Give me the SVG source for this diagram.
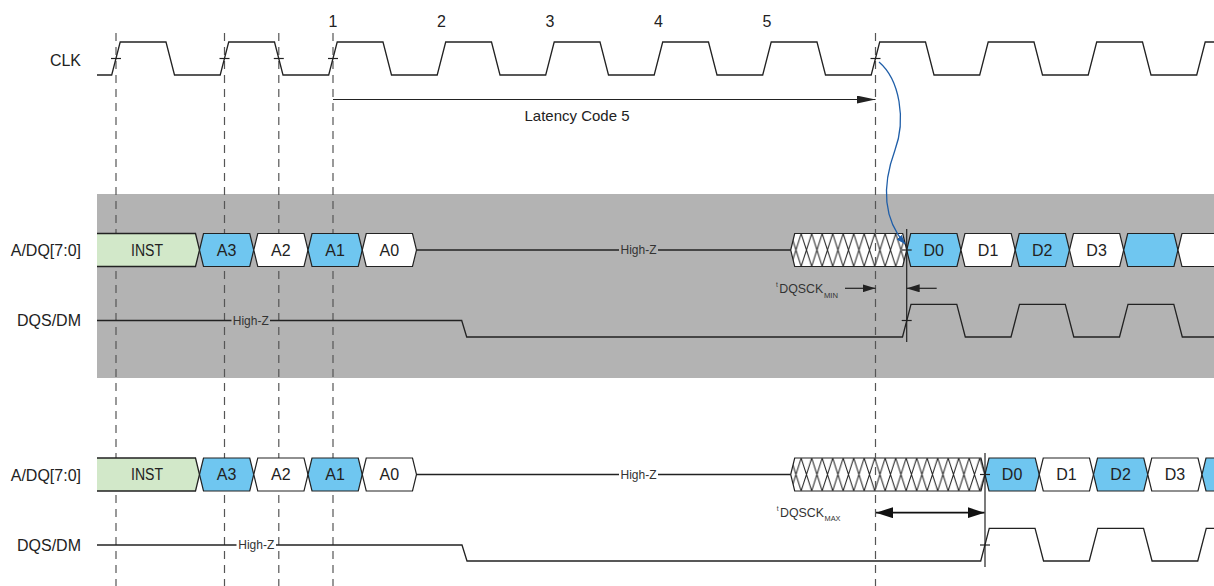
<svg xmlns="http://www.w3.org/2000/svg" width="1214" height="586" viewBox="0 0 1214 586">
<style>
text{font-family:"Liberation Sans",Arial,sans-serif;fill:#222}
.lbl{font-size:16px;text-anchor:end}
.num{font-size:16px;text-anchor:middle}
.bt{font-size:16px;text-anchor:middle}
.hz{font-size:12px;text-anchor:middle;fill:#333}
.w{fill:none;stroke:#222;stroke-width:1.3;stroke-linejoin:miter}
.dash{stroke:#555;stroke-width:1.2;stroke-dasharray:8,6}
.blue{fill:#6fc6f0;stroke:#222;stroke-width:1.2}
.white{fill:#fff;stroke:#222;stroke-width:1.2}
.green{fill:#d2e8c9;stroke:none}
.tick{stroke:#222;stroke-width:1.2}
.conn{fill:none;stroke:#222;stroke-width:1.2}
.small{font-size:13px;fill:#333}
.tiny{font-size:6.5px;fill:#333}
</style>
<defs>
<pattern id="hatch1" patternUnits="userSpaceOnUse" x="790.7" y="233.5" width="10.5" height="33">
<path d="M0,0 L10.5,33 M10.5,0 L0,33" stroke="#222" stroke-width="1" fill="none"/>
</pattern>
<pattern id="hatch2" patternUnits="userSpaceOnUse" x="790.7" y="458" width="10.5" height="33">
<path d="M0,0 L10.5,33 M10.5,0 L0,33" stroke="#222" stroke-width="1" fill="none"/>
</pattern>
<marker id="arrLat" viewBox="0 0 19 8" refX="19" refY="4" markerWidth="19" markerHeight="8" markerUnits="userSpaceOnUse" orient="auto">
<path d="M0,0 L19,4 L0,8 z" fill="#222"/>
</marker>
<marker id="arrS" viewBox="0 0 13 8" refX="13" refY="4" markerWidth="13" markerHeight="8" markerUnits="userSpaceOnUse" orient="auto">
<path d="M0,0 L13,4 L0,8 z" fill="#222"/>
</marker>
<marker id="arrL" viewBox="0 0 17 11" refX="17" refY="5.5" markerWidth="17" markerHeight="11" markerUnits="userSpaceOnUse" orient="auto-start-reverse">
<path d="M0,0 L17,5.5 L0,11 z" fill="#111"/>
</marker>
<marker id="arrB" viewBox="0 0 9 7" refX="9" refY="3.5" markerWidth="9" markerHeight="7" markerUnits="userSpaceOnUse" orient="auto">
<path d="M0,0 L9,3.5 L0,7 z" fill="#1f5ea8"/>
</marker>
</defs>

<rect id="band" x="97" y="194" width="1117" height="184" fill="#b3b3b3"/>

<g id="labels">
<text class="lbl" x="81" y="66" textLength="31" lengthAdjust="spacingAndGlyphs">CLK</text>
<text class="lbl" x="81" y="256">A/DQ[7:0]</text>
<text class="lbl" x="81" y="326">DQS/DM</text>
<text class="lbl" x="81" y="480.5">A/DQ[7:0]</text>
<text class="lbl" x="81" y="551">DQS/DM</text>
</g>

<g id="hatched">
<polygon points="790.7,250 794.7,233.5 902.7,233.5 906.7,250 902.7,266.5 794.7,266.5" fill="#fff"/>
<polygon points="790.7,250 794.7,233.5 902.7,233.5 906.7,250 902.7,266.5 794.7,266.5" fill="url(#hatch1)" stroke="#222" stroke-width="1.2"/>
<polygon points="790.7,474.5 794.7,458 981,458 985,474.5 981,491 794.7,491" fill="#fff"/>
<polygon points="790.7,474.5 794.7,458 981,458 985,474.5 981,491 794.7,491" fill="url(#hatch2)" stroke="#222" stroke-width="1.2"/>
</g>

<g id="gridlines">
<line class="dash" x1="116" y1="33" x2="116" y2="586"/>
<line class="dash" x1="224.5" y1="33" x2="224.5" y2="586"/>
<line class="dash" x1="278.8" y1="33" x2="278.8" y2="586"/>
<line class="dash" x1="333" y1="33" x2="333" y2="586"/>
<line class="dash" x1="875.5" y1="33" x2="875.5" y2="586"/>
</g>

<g id="clk">
<path class="w" d="M97,75 L111.7,75 L120.2,42 L166,42 L174.5,75 L220.2,75 L228.7,42 L274.5,42 L283,75 L328.7,75 L337.2,42 L383,42 L391.5,75 L437.2,75 L445.7,42 L491.5,42 L500,75 L545.7,75 L554.2,42 L600,42 L608.5,75 L654.2,75 L662.7,42 L708.5,42 L717,75 L762.7,75 L771.2,42 L817,42 L825.5,75 L871.2,75 L879.7,42 L925.5,42 L934,75 L979.7,75 L988.2,42 L1034,42 L1042.5,75 L1088.2,75 L1096.7,42 L1142.5,42 L1151,75 L1196.7,75 L1205.2,42 L1214,42"/>
<line class="tick" x1="111" y1="58.5" x2="121" y2="58.5"/>
<line class="tick" x1="219.5" y1="58.5" x2="229.5" y2="58.5"/>
<line class="tick" x1="273.8" y1="58.5" x2="283.8" y2="58.5"/>
<line class="tick" x1="328" y1="58.5" x2="338" y2="58.5"/>
<line class="tick" x1="870.5" y1="58.5" x2="880.5" y2="58.5"/>
<text class="num" x="333" y="27">1</text>
<text class="num" x="441.5" y="27">2</text>
<text class="num" x="550" y="27">3</text>
<text class="num" x="658.5" y="27">4</text>
<text class="num" x="767" y="27">5</text>
</g>

<g id="adq1">
<polygon class="green" points="97,233.5 195.5,233.5 199.5,250 195.5,266.5 97,266.5"/>
<polyline class="w" points="97,233.5 195.5,233.5 199.5,250 195.5,266.5 97,266.5"/>
<polygon class="blue" points="199.5,250 203.5,233.5 249.75,233.5 253.75,250 249.75,266.5 203.5,266.5"/>
<polygon class="white" points="253.75,250 257.75,233.5 304,233.5 308,250 304,266.5 257.75,266.5"/>
<polygon class="blue" points="308,250 312,233.5 358.25,233.5 362.25,250 358.25,266.5 312,266.5"/>
<polygon class="white" points="362.25,250 366.25,233.5 412.5,233.5 416.5,250 412.5,266.5 366.25,266.5"/>
<text class="bt" x="147" y="255.8" textLength="32" lengthAdjust="spacingAndGlyphs">INST</text>
<text class="bt" x="226.6" y="255.8">A3</text>
<text class="bt" x="280.9" y="255.8">A2</text>
<text class="bt" x="335.1" y="255.8">A1</text>
<text class="bt" x="389.4" y="255.8">A0</text>
<line class="w" x1="416.5" y1="250" x2="619" y2="250"/>
<line class="w" x1="658" y1="250" x2="790.7" y2="250"/>
<text class="hz" x="638.5" y="254.3">High-Z</text>
<polygon class="blue" points="906.7,250 910.7,233.5 956.95,233.5 960.95,250 956.95,266.5 910.7,266.5"/>
<polygon class="white" points="960.95,250 964.95,233.5 1011.2,233.5 1015.2,250 1011.2,266.5 964.95,266.5"/>
<polygon class="blue" points="1015.2,250 1019.2,233.5 1065.45,233.5 1069.45,250 1065.45,266.5 1019.2,266.5"/>
<polygon class="white" points="1069.45,250 1073.45,233.5 1119.7,233.5 1123.7,250 1119.7,266.5 1073.45,266.5"/>
<polygon class="blue" points="1123.7,250 1127.7,233.5 1173.95,233.5 1177.95,250 1173.95,266.5 1127.7,266.5"/>
<polygon class="white" points="1177.95,250 1181.95,233.5 1220,233.5 1220,266.5 1181.95,266.5"/>
<text class="bt" x="933.8" y="255.8">D0</text>
<text class="bt" x="988.1" y="255.8">D1</text>
<text class="bt" x="1042.3" y="255.8">D2</text>
<text class="bt" x="1096.6" y="255.8">D3</text>
<line class="tick" x1="901.7" y1="250" x2="911.7" y2="250"/>
<line class="tick" x1="906.7" y1="229" x2="906.7" y2="342"/>
</g>

<g id="dqs1">
<line class="w" x1="97" y1="320.5" x2="231.5" y2="320.5"/>
<text class="hz" x="250.8" y="324.8">High-Z</text>
<path class="w" d="M270,320.5 L461.7,320.5 L466.7,337 L902.5,337 L911,304.3 L956.8,304.3 L965.3,337 L1011,337 L1019.5,304.3 L1065.3,304.3 L1073.8,337 L1119.5,337 L1128,304.3 L1173.8,304.3 L1182.3,337 L1214,337"/>
<line class="tick" x1="901.7" y1="320.5" x2="911.7" y2="320.5"/>
</g>

<g id="adq2">
<polygon class="green" points="97,458 195.5,458 199.5,474.5 195.5,491 97,491"/>
<polyline class="w" points="97,458 195.5,458 199.5,474.5 195.5,491 97,491"/>
<polygon class="blue" points="199.5,474.5 203.5,458 249.75,458 253.75,474.5 249.75,491 203.5,491"/>
<polygon class="white" points="253.75,474.5 257.75,458 304,458 308,474.5 304,491 257.75,491"/>
<polygon class="blue" points="308,474.5 312,458 358.25,458 362.25,474.5 358.25,491 312,491"/>
<polygon class="white" points="362.25,474.5 366.25,458 412.5,458 416.5,474.5 412.5,491 366.25,491"/>
<text class="bt" x="147" y="480.3" textLength="32" lengthAdjust="spacingAndGlyphs">INST</text>
<text class="bt" x="226.6" y="480.3">A3</text>
<text class="bt" x="280.9" y="480.3">A2</text>
<text class="bt" x="335.1" y="480.3">A1</text>
<text class="bt" x="389.4" y="480.3">A0</text>
<line class="w" x1="416.5" y1="474.5" x2="619" y2="474.5"/>
<line class="w" x1="658" y1="474.5" x2="790.7" y2="474.5"/>
<text class="hz" x="638.5" y="478.8">High-Z</text>
<polygon class="blue" points="985,474.5 989,458 1035.25,458 1039.25,474.5 1035.25,491 989,491"/>
<polygon class="white" points="1039.25,474.5 1043.25,458 1089.5,458 1093.5,474.5 1089.5,491 1043.25,491"/>
<polygon class="blue" points="1093.5,474.5 1097.5,458 1143.75,458 1147.75,474.5 1143.75,491 1097.5,491"/>
<polygon class="white" points="1147.75,474.5 1151.75,458 1198,458 1202,474.5 1198,491 1151.75,491"/>
<polygon class="blue" points="1202,474.5 1206,458 1220,458 1220,491 1206,491"/>
<text class="bt" x="1012.1" y="480.3">D0</text>
<text class="bt" x="1066.4" y="480.3">D1</text>
<text class="bt" x="1120.6" y="480.3">D2</text>
<text class="bt" x="1174.9" y="480.3">D3</text>
<line class="tick" x1="980" y1="474.5" x2="990" y2="474.5"/>
<line class="tick" x1="985" y1="453" x2="985" y2="567"/>
</g>

<g id="dqs2">
<line class="w" x1="97" y1="545" x2="236.5" y2="545"/>
<text class="hz" x="256.3" y="549.3">High-Z</text>
<path class="w" d="M276,545 L462,545 L467,561 L980.75,561 L989.25,528.3 L1035.05,528.3 L1043.55,561 L1089.25,561 L1097.75,528.3 L1143.55,528.3 L1152.05,561 L1197.75,561 L1206.25,528.3 L1214,528.3"/>
<line class="tick" x1="980" y1="545" x2="990" y2="545"/>
</g>

<g id="connectors">
<line class="conn" x1="333" y1="99.5" x2="875.5" y2="99.5" marker-end="url(#arrLat)"/>
<path d="M879,62 C900,80 906,120 895,150 C884,180 880,215 905,244" fill="none" stroke="#1f5ea8" stroke-width="1.3" marker-end="url(#arrB)"/>
<line class="conn" x1="845" y1="288.3" x2="875.5" y2="288.3" marker-end="url(#arrS)"/>
<line class="conn" x1="936.7" y1="288.3" x2="906.7" y2="288.3" marker-end="url(#arrS)"/>
<line x1="876" y1="512.7" x2="984.5" y2="512.7" stroke="#111" stroke-width="1.8" marker-start="url(#arrL)" marker-end="url(#arrL)"/>
</g>

<g id="annotations">
<text x="577" y="120.5" font-size="15" text-anchor="middle" textLength="105" lengthAdjust="spacingAndGlyphs">Latency Code 5</text>
<text class="tiny" x="776" y="287">t</text>
<text class="small" x="779.3" y="293.3" textLength="44" lengthAdjust="spacingAndGlyphs">DQSCK</text>
<text class="tiny" x="824" y="298.3" textLength="14" lengthAdjust="spacingAndGlyphs">MIN</text>
<text class="tiny" x="776.7" y="510.7">t</text>
<text class="small" x="780" y="516.7" textLength="44" lengthAdjust="spacingAndGlyphs">DQSCK</text>
<text class="tiny" x="824.5" y="521.3" textLength="16" lengthAdjust="spacingAndGlyphs">MAX</text>
</g>
</svg>
